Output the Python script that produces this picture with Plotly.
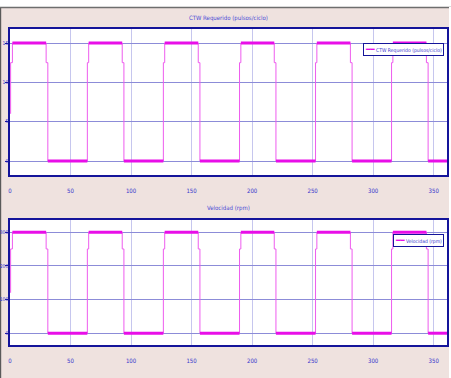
import plotly.graph_objects as go

# ---- data ----
t_end = 361.0
rise_times = [65.0, 127.8, 190.7, 253.5, 316.3]
fall_times = [31.25, 94.1, 156.9, 219.7, 282.6, 345.4]
step_fall = 1.4   # first partial drop before final drop
step_rise = 1.1   # partial rise before final rise

top_high, top_mid, top_low, top_start = 15.0, 12.5, 0.0, 6.0
bot_high, bot_mid, bot_low, bot_start = 300.0, 250.0, 0.0, 120.0

top_title = "CTW Requerido (pulsos/ciclo)"
bot_title = "Velocidad (rpm)"
x_ticks = [0, 50, 100, 150, 200, 250, 300, 350]
top_yticks = [0, 5, 10, 15]
bot_yticks = [0, 100, 200, 300]


def build(high, mid, low, start):
    tx = [0.5, 0.5, 2.0, 2.0]
    ty = [start, mid, mid, high]
    hx, hy = [2.0], [high]
    events = sorted([(f, "f") for f in fall_times] + [(r, "r") for r in rise_times])
    for t, kind in events:
        if kind == "f":
            a = t - step_fall
            tx += [a, a, t, t]
            ty += [high, mid, mid, low]
            hx += [a, None, t]
            hy += [high, None, low]
        else:
            a = t - step_rise
            tx += [a, a, t, t]
            ty += [low, mid, mid, high]
            hx += [a, None, t]
            hy += [low, None, high]
    tx.append(t_end)
    ty.append(ty[-1])
    hx.append(t_end)
    hy.append(hy[-1])
    return tx, ty, hx, hy


thin_c = "#ee5cee"
thick_c = "#e80ee8"
blue_txt = "#3434cc"
axis_c = "#14149a"
hgrid = "#8c8cd8"
vgrid = "#c6c6ee"
font_fam = "'DejaVu Sans Condensed', 'Liberation Sans', sans-serif"

fig = go.Figure()
for (hi, mi, lo, st, name, xa, ya) in [
    (top_high, top_mid, top_low, top_start, top_title, "x", "y"),
    (bot_high, bot_mid, bot_low, bot_start, bot_title, "x2", "y2"),
]:
    tx, ty, hx, hy = build(hi, mi, lo, st)
    fig.add_trace(go.Scatter(x=tx, y=ty, mode="lines", xaxis=xa, yaxis=ya,
                             line=dict(color=thin_c, width=1), showlegend=False,
                             hoverinfo="skip"))
    fig.add_trace(go.Scatter(x=hx, y=hy, mode="lines", xaxis=xa, yaxis=ya,
                             line=dict(color=thick_c, width=3), name=name,
                             showlegend=False, connectgaps=False))

W, H = 451, 378
ml, mr, mt, mb = 10, 4, 29, 33
pw, ph = W - ml - mr, H - mt - mb


def px(x):
    return (x - ml) / pw


def py(y):
    return (H - mb - y) / ph


tick_font = dict(family=font_fam, size=6, color=blue_txt)
ytick_font = dict(family=font_fam, size=5, color=blue_txt)
xcommon = dict(range=[0, t_end], tickvals=x_ticks, showgrid=True, gridcolor=vgrid,
               gridwidth=1, zeroline=False, showline=True, linecolor=axis_c,
               linewidth=1.5, mirror=True, ticks="", tickfont=tick_font,
               ticklabelstandoff=9, automargin=False)
ycommon = dict(showgrid=True, gridcolor=hgrid, gridwidth=1, zeroline=False,
               showline=True, linecolor=axis_c, linewidth=1.5, mirror="ticks",
               ticks="outside", ticklen=3, tickcolor=axis_c, tickfont=ytick_font,
               ticklabelstandoff=-4, automargin=False)

leg_font = dict(family=font_fam, size=5, color=blue_txt)


def legend_box(text, x_right, y_top):
    return dict(
        text="<span style='color:%s;font-size:8px'>━━</span> %s" % (thick_c, text),
        x=px(x_right), y=py(y_top), xref="paper", yref="paper",
        xanchor="right", yanchor="top", showarrow=False, align="left",
        bgcolor="white", bordercolor=axis_c, borderwidth=1, borderpad=1,
        font=leg_font)


fig.update_layout(
    width=W, height=H,
    margin=dict(l=ml, r=mr, t=mt, b=mb, autoexpand=False),
    paper_bgcolor="#efe2df",
    plot_bgcolor="white",
    showlegend=False,
    xaxis=dict(domain=[0, 1], anchor="y", **xcommon),
    yaxis=dict(domain=[py(175), py(29)], anchor="x", range=[-1.78, 16.78],
               tickvals=top_yticks, **ycommon),
    xaxis2=dict(domain=[0, 1], anchor="y2", **xcommon),
    yaxis2=dict(domain=[py(345), py(220)], anchor="x2", range=[-35, 336],
                tickvals=bot_yticks, **ycommon),
    annotations=[
        dict(text=top_title, x=0.5, y=py(18), xref="paper", yref="paper",
             showarrow=False, yanchor="middle",
             font=dict(family=font_fam, size=6, color="#4a4ad6")),
        dict(text=bot_title, x=0.5, y=py(208), xref="paper", yref="paper",
             showarrow=False, yanchor="middle",
             font=dict(family=font_fam, size=6, color="#4a4ad6")),
        legend_box(top_title, 444, 43),
        legend_box(bot_title, 444, 234),
    ],
    shapes=[
        dict(type="rect", xref="paper", yref="paper", x0=px(0), x1=px(W),
             y0=py(7), y1=py(0), fillcolor="white", line=dict(width=0)),
        dict(type="line", xref="paper", yref="paper", x0=px(0), x1=px(W),
             y0=py(7.5), y1=py(7.5), line=dict(color="#6e6e6e", width=1.5)),
        dict(type="rect", xref="paper", yref="paper", x0=px(0), x1=px(1.2),
             y0=py(H), y1=py(7), fillcolor="#5a5a5a", line=dict(width=0),
             layer="below"),
        dict(type="rect", xref="paper", yref="paper", x0=px(449), x1=px(W),
             y0=py(H), y1=py(7), fillcolor="white", line=dict(width=0)),
    ],
)

fig.write_html("out.html")
